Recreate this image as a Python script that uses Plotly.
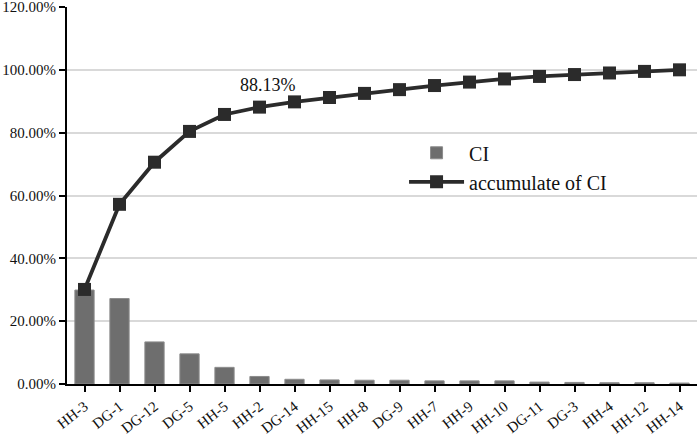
import plotly.graph_objects as go

categories = ["HH-3", "DG-1", "DG-12", "DG-5", "HH-5", "HH-2", "DG-14", "HH-15", "HH-8",
              "DG-9", "HH-7", "HH-9", "HH-10", "DG-11", "DG-3", "HH-4", "HH-12", "HH-14"]
ci_values = [29.9, 27.2, 13.4, 9.6, 5.3, 2.4, 1.5, 1.3, 1.2,
             1.2, 1.0, 1.0, 1.0, 0.6, 0.5, 0.4, 0.4, 0.3]
accumulate_values = [30.1, 57.2, 70.6, 80.4, 85.8, 88.13, 89.8, 91.2, 92.5,
                     93.7, 95.0, 96.1, 97.1, 97.9, 98.5, 99.0, 99.5, 100.0]
y_ticks = [0, 20, 40, 60, 80, 100, 120]
y_tick_labels = ["%.2f%%" % v for v in y_ticks]
label_text = "88.13%"
label_category = "HH-2"
label_value = 88.13

FONT = "Liberation Serif"

fig = go.Figure()
fig.add_trace(go.Bar(
    x=categories, y=ci_values, name="CI",
    marker=dict(color="#6e6e6e", line=dict(color="#8c8c8c", width=1)),
    width=0.55,
))
fig.add_trace(go.Scatter(
    x=categories, y=accumulate_values, name="accumulate of CI",
    mode="lines+markers",
    line=dict(color="#2b2b2b", width=3.8),
    marker=dict(symbol="square", size=13, color="#2b2b2b"),
))
fig.add_annotation(x=label_category, y=label_value, text=label_text, showarrow=False,
                   yshift=22, xshift=8, font=dict(family=FONT, size=18, color="#111"))

fig.update_layout(
    width=700, height=437,
    margin=dict(l=67, r=3, t=7, b=53, autoexpand=False),
    paper_bgcolor="white", plot_bgcolor="white",
    font=dict(family=FONT, size=15, color="#111"),
    showlegend=True,
    legend=dict(x=0.535, y=0.665, xanchor="left", yanchor="top",
                font=dict(family=FONT, size=20, color="#111"),
                bgcolor="rgba(0,0,0,0)", itemwidth=55, tracegroupgap=2),
    bargap=0.45,
)
fig.update_xaxes(
    type="category", range=[-0.5, 17.5], automargin=False,
    showline=True, linecolor="black", linewidth=2,
    ticks="outside", ticklen=6, tickwidth=2, tickcolor="black",
    tickangle=-38, tickfont=dict(family=FONT, size=15),
    ticklabeloverflow="allow",
    showgrid=False,
)
fig.update_yaxes(
    range=[0, 120], tickvals=y_ticks, ticktext=y_tick_labels, automargin=False,
    showline=True, linecolor="black", linewidth=2,
    ticks="outside", ticklen=6, tickwidth=2, tickcolor="black",
    showgrid=True, gridcolor="#d9d9d9", gridwidth=1.5,
    zeroline=False, tickfont=dict(family=FONT, size=15),
    ticklabeloverflow="allow",
)

fig.write_html("out.html", config={"displayModeBar": False},
               post_script="document.body.style.margin='0';document.body.style.overflow='hidden';")
